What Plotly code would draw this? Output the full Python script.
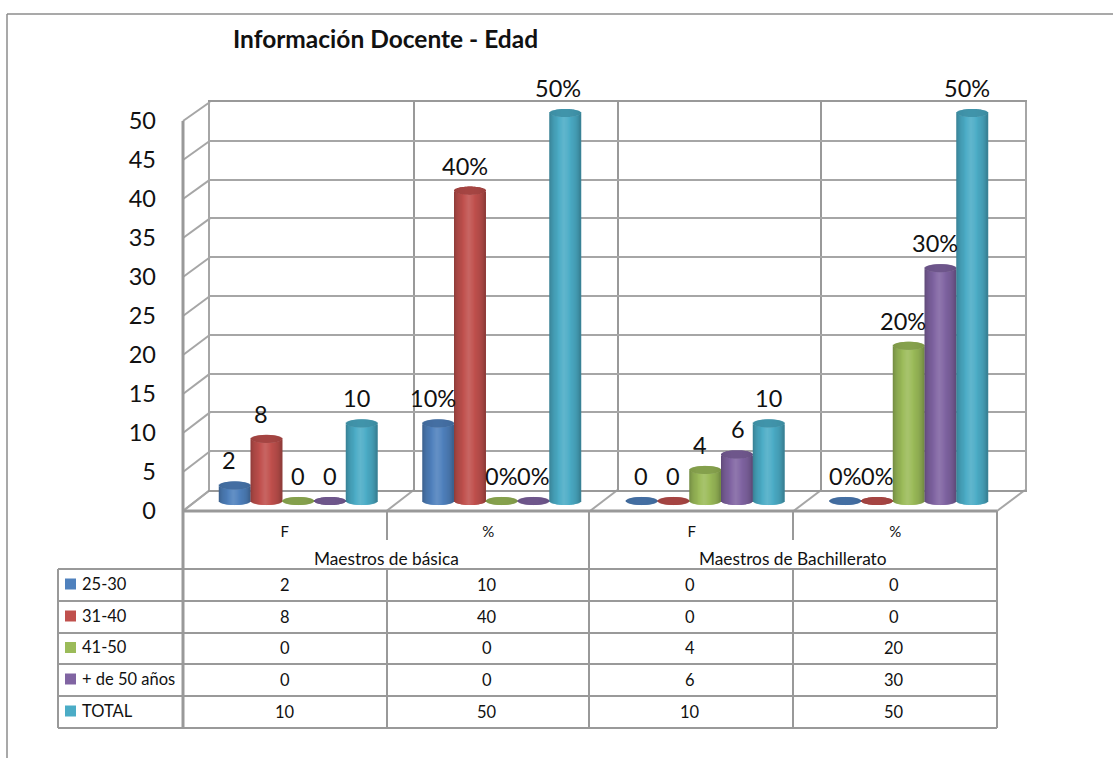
import math
import plotly.graph_objects as go

W, H = 1113, 758

# ---------- data ----------
title_text = "Información Docente - Edad"
series_names = ["25-30", "31-40", "41-50", "+ de 50 años", "TOTAL"]
v_25_30 = [2, 10, 0, 0]
v_31_40 = [8, 40, 0, 0]
v_41_50 = [0, 0, 4, 20]
v_mas_50 = [0, 0, 6, 30]
v_total = [10, 50, 10, 50]
columns = ["F", "%", "F", "%"]
groups = ["Maestros de básica", "Maestros de Bachillerato"]
y_ticks = list(range(0, 55, 5))
series_values = [v_25_30, v_31_40, v_41_50, v_mas_50, v_total]
series_colors = ["#4F81BD", "#C0504D", "#9BBB59", "#8064A2", "#4BACC6"]

# ---------- helpers ----------
LINE = "#999999"
FONT = "Lato"


def px(x):
    return x / W


def py(y):
    return 1 - y / H


def mix(hex_color, factor):
    r, g, b = [int(hex_color[i:i + 2], 16) for i in (1, 3, 5)]
    if factor <= 1:
        c = [v * factor for v in (r, g, b)]
    else:
        c = [v + (255 - v) * (factor - 1) for v in (r, g, b)]
    return "rgb(%d,%d,%d)" % tuple(round(v) for v in c)


fig = go.Figure()

# back wall (first subplot, drawn underneath), front axes, then the cylinders
fig.add_trace(go.Scatter(x=[0], y=[0], mode="markers", marker=dict(opacity=0), xaxis="x", yaxis="y",
                         showlegend=False, hoverinfo="skip"))
fig.add_trace(go.Scatter(x=[0], y=[0], mode="markers", marker=dict(opacity=0), xaxis="x2", yaxis="y2",
                         showlegend=False, hoverinfo="skip"))

SP = 31.75 / 203.5      # series spacing in group units
BW = 31.0 / 203.5       # cylinder diameter in group units
E = 0.52                # ellipse half height in value units
N = 31                  # strips across a cylinder

for i, (name, vals, col) in enumerate(zip(series_names, series_values, series_colors)):
    bx, by, bb, bo, bw, bc = [], [], [], [], [], []
    cx, cy, cb, co, cw, cc = [], [], [], [], [], []
    for g, v in enumerate(vals):
        centre = g + 0.5
        for k in range(N):
            t = (k + 0.5) / N * 2 - 1
            s = math.sqrt(1 - t * t)
            off = (i - 2) * SP + (t - 1 / N) * BW / 2
            wid = BW / N * 2
            shade = 0.70 + 0.30 * s ** 1.2 + 0.12 * max(0, 1 - abs(t + 0.05) * 2.2)
            if v > 0:
                bx.append(centre); bb.append(-E * s); by.append(v)
                bo.append(off); bw.append(wid); bc.append(mix(col, shade))
            cx.append(centre); cb.append(v - E * s); cy.append(2 * E * s)
            co.append(off); cw.append(wid); cc.append(mix(col, 0.78 + 0.08 * s))
    if bx:
        fig.add_trace(go.Bar(x=bx, y=by, base=bb, offset=bo, width=bw, name=name,
                             marker=dict(color=bc, line=dict(width=0)), xaxis="x3", yaxis="y3",
                             cliponaxis=False, showlegend=False, hoverinfo="skip"))
    fig.add_trace(go.Bar(x=cx, y=cy, base=cb, offset=co, width=cw, name=name,
                         marker=dict(color=cc, line=dict(width=0)), xaxis="x3", yaxis="y3",
                         cliponaxis=False, showlegend=False, hoverinfo="skip"))

shapes = []


def seg(x0, y0, x1, y1, layer="below", width=2, color=LINE):
    shapes.append(dict(type="line", xref="paper", yref="paper", x0=px(x0), y0=py(y0), x1=px(x1), y1=py(y1),
                       line=dict(color=color, width=width), layer=layer))


FX0, FX1, FY0, FY1 = 183, 997, 511, 121     # front box
BX0, BX1, BY0, BY1 = 210, 1025, 490, 102    # back wall

# outer frame
seg(7, 14, 7, H, width=1.5, color="#8C8C8C")
seg(7, 14, W, 14, width=1.5, color="#8C8C8C")

# oblique side wall and floor lines
for v in y_ticks:
    f = v / 50
    seg(FX0, FY0 + (FY1 - FY0) * f, BX0, BY0 + (BY1 - BY0) * f, color="#A6A6A6")
for i in range(5):
    gx = i * (FX1 - FX0) / 4
    seg(FX0 + gx, FY0, BX0 + gx * (BX1 - BX0) / (FX1 - FX0), BY0, color="#A6A6A6")

# front lines and table grid
seg(FX0, FY1, FX0, 728, width=3)
seg(FX0, FY0, FX1, FY0, width=3)
seg(FX1, FY0, FX1, 728, width=2)
for i, x in enumerate([387, 589, 793]):
    seg(x, FY0, x, 569 if i == 1 else 540, width=2)
    seg(x, 569, x, 728, width=2)
seg(58, 569, 58, 728, width=2)
row_y = [569, 601, 633, 664, 696, 728]
for y in row_y:
    seg(58, y, FX1, y, width=2)

annotations = []


def txt(x, y, s, size=16.5, anchor="center", bold=False):
    annotations.append(dict(xref="paper", yref="paper", x=px(x), y=py(y), text=("<b>%s</b>" % s) if bold else s,
                            showarrow=False, xanchor=anchor, yanchor="middle",
                            font=dict(family=FONT, size=size, color="#111111")))


# title
txt(231, 38, title_text, size=24.5, anchor="left", bold=True)

# group captions
txt(386, 558, groups[0], size=17.3)
txt(793, 558, groups[1], size=17.3)

# table body
col_x = [285, 487, 690, 894]
for r, (name, vals, col) in enumerate(zip(series_names, series_values, series_colors)):
    yc = (row_y[r] + row_y[r + 1]) / 2 - 0.5
    shapes.append(dict(type="rect", xref="paper", yref="paper", x0=px(65), x1=px(76), y0=py(yc - 6), y1=py(yc + 5),
                       fillcolor=col, line=dict(width=0), layer="above"))
    txt(80, yc - 1, name, anchor="left")
    for cx_, v in zip(col_x, vals):
        txt(cx_, yc, str(v))

# data labels, anchored to the cylinders' values
label_nudge = {(3, 2): 1, (4, 2): 0, (4, 1): -7}
for i, vals in enumerate(series_values):
    for g, v in enumerate(vals):
        label = "%d%%" % v if columns[g] == "%" else str(v)
        annotations.append(dict(xref="x3", yref="y3", x=g + 0.5 + (i - 2) * SP, y=v, text=label,
                                showarrow=False, xanchor="center", yanchor="middle",
                                xshift=label_nudge.get((i, g), -5 if v > 0 else 0), yshift=25,
                                font=dict(family=FONT, size=23.5, color="#111111")))

hidden = dict(visible=True, showgrid=False, zeroline=False, showline=False, showticklabels=False, ticks="")

fig.update_layout(
    width=W, height=H, margin=dict(l=0, r=0, t=0, b=0, pad=0, autoexpand=False),
    paper_bgcolor="white", plot_bgcolor="rgba(0,0,0,0)",
    barmode="overlay", showlegend=False, shapes=shapes, annotations=annotations,
    font=dict(family=FONT, color="#111111"),
    xaxis=dict(domain=[px(BX0), px(BX1)], range=[0, 4], dtick=1, tick0=0, showgrid=True, gridcolor=LINE, gridwidth=2,
               zeroline=False, showline=True, mirror=True, linecolor=LINE, linewidth=2, showticklabels=False,
               anchor="y", ticks=""),
    yaxis=dict(domain=[py(BY0), py(BY1)], range=[0, 50], dtick=5, tick0=0, showgrid=True, gridcolor="#A6A6A6", gridwidth=2,
               zeroline=False, showline=True, mirror=True, linecolor="#A6A6A6", linewidth=2, showticklabels=False,
               anchor="x", ticks=""),
    xaxis2=dict(domain=[px(FX0), px(FX1)], range=[0, 4], tickvals=[0.5, 1.5, 2.5, 3.5], ticktext=columns,
                showgrid=False, zeroline=False, showline=False, ticks="", anchor="y2",
                tickfont=dict(family=FONT, size=15, color="#111111"), ticklabelstandoff=10),
    yaxis2=dict(domain=[py(FY0), py(FY1)], range=[0, 50], tickvals=y_ticks, showgrid=False, zeroline=False,
                showline=False, ticks="", anchor="x2", ticklabelstandoff=26,
                tickfont=dict(family=FONT, size=23.5, color="#111111")),
    # the cylinder axes extend 2 units past the value range so the rounded ends are not cut off
    xaxis3=dict(domain=[px(196), px(1010)], range=[0, 4], anchor="y3", **hidden),
    yaxis3=dict(domain=[py(501 + 2 * 7.76), py(113 - 2 * 7.76)], range=[-2, 52], anchor="x3", **hidden),
)

fig.write_html("out.html", config={"displayModeBar": False}, post_script="document.body.style.margin='0';")
